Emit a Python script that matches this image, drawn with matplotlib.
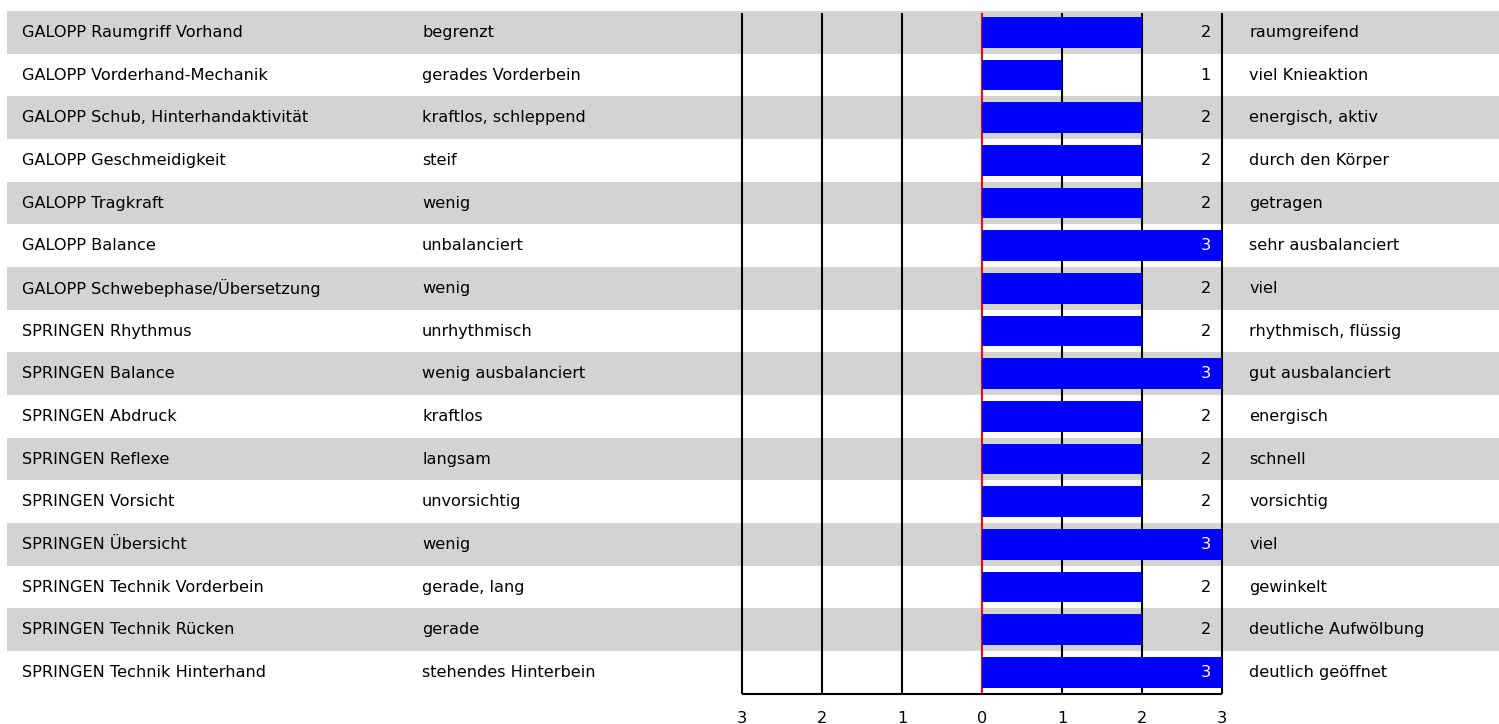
import matplotlib.pyplot as plt

labels = ["GALOPP Raumgriff Vorhand", "GALOPP Vorderhand-Mechanik",
          "GALOPP Schub, Hinterhandaktivität", "GALOPP Geschmeidigkeit",
          "GALOPP Tragkraft", "GALOPP Balance", "GALOPP Schwebephase/Übersetzung",
          "SPRINGEN Rhythmus", "SPRINGEN Balance", "SPRINGEN Abdruck",
          "SPRINGEN Reflexe", "SPRINGEN Vorsicht", "SPRINGEN Übersicht",
          "SPRINGEN Technik Vorderbein", "SPRINGEN Technik Rücken",
          "SPRINGEN Technik Hinterhand"]
low_labels = ["begrenzt", "gerades Vorderbein", "kraftlos, schleppend", "steif",
              "wenig", "unbalanciert", "wenig", "unrhythmisch", "wenig ausbalanciert",
              "kraftlos", "langsam", "unvorsichtig", "wenig", "gerade, lang",
              "gerade", "stehendes Hinterbein"]
high_labels = ["raumgreifend", "viel Knieaktion", "energisch, aktiv", "durch den Körper",
               "getragen", "sehr ausbalanciert", "viel", "rhythmisch, flüssig",
               "gut ausbalanciert", "energisch", "schnell", "vorsichtig", "viel",
               "gewinkelt", "deutliche Aufwölbung", "deutlich geöffnet"]
values = [2, 1, 2, 2, 2, 3, 2, 2, 3, 2, 2, 2, 3, 2, 2, 3]
ticks = [-3, -2, -1, 0, 1, 2, 3]
tick_labels = ["3", "2", "1", "0", "1", "2", "3"]

plt.rcParams['font.family'] = ['DejaVu Sans']
fs = 11.6

fig = plt.figure(figsize=(14.99, 7.24), dpi=100)
ax = fig.add_axes([0, 0, 1, 1])
ax.axis('off')

# 80 px per unit, zero at x=982 px; rows 42.67 px high, first row top at ~11 px
ax.set_xlim(-982 / 80, (1499 - 982) / 80)
rh = 42.67
ax.set_ylim((724 - 11) / rh - 0.5, -11 / rh - 0.5)

n = len(labels)
for i in range(n):
    if i % 2 == 0:
        ax.axhspan(i - 0.5, i + 0.5, xmin=7 / 1499, xmax=1, color='#d3d3d3', lw=0, zorder=0)

# grid lines
for t in ticks:
    ax.vlines(t, -0.45, n - 0.5, color='red' if t == 0 else 'black',
              lw=1.5, zorder=1)
ax.hlines(n - 0.5, -3, 3, color='black', lw=1.5, zorder=1)

ax.barh(range(n), values, height=0.72, left=0, color='#0000ff', zorder=2)

for i in range(n):
    ax.text(-12, i, labels[i], fontsize=fs, va='center', ha='left')
    ax.text(-7, i, low_labels[i], fontsize=fs, va='center', ha='left')
    ax.text(3.34, i, high_labels[i], fontsize=fs, va='center', ha='left')
    ax.text(2.86, i, str(values[i]), fontsize=fs, va='center', ha='right',
            color='white' if values[i] >= 3 else 'black', zorder=3)

for t, lab in zip(ticks, tick_labels):
    ax.text(t, n + 0.07, lab, fontsize=fs, va='center', ha='center')

fig.savefig('out.png', dpi=100)
